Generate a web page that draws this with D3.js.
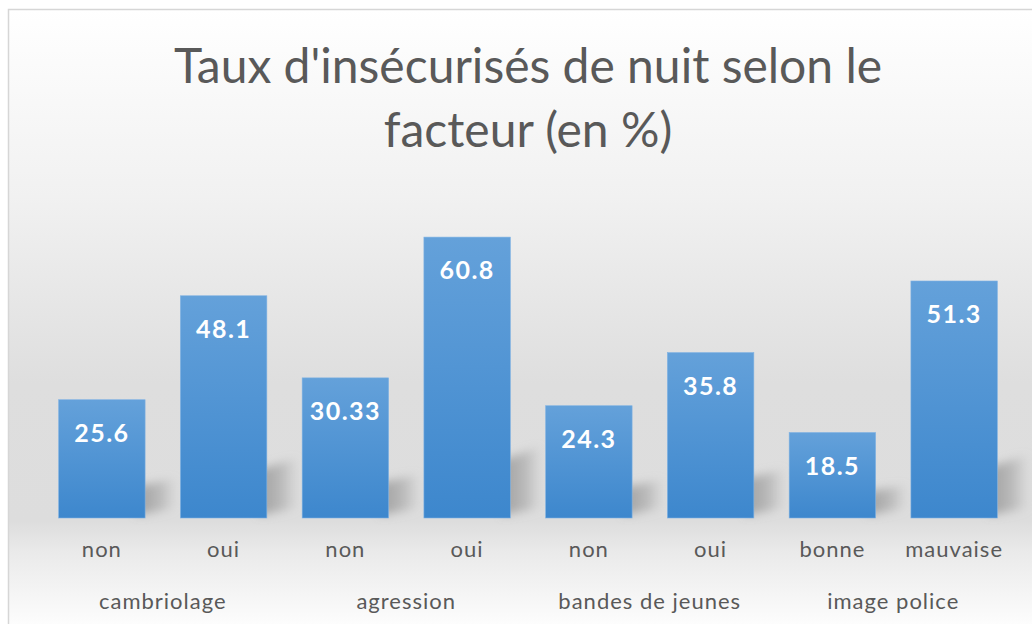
<!DOCTYPE html>
<html>
<head>
<meta charset="utf-8">
<script src="https://cdn.jsdelivr.net/npm/d3@7"></script>
<style>
  body { margin: 0; background: #fff; }
  svg { display: block; font-family: Lato, "Open Sans", sans-serif; }
</style>
</head>
<body>
<svg id="chart" width="1032" height="624"></svg>
<script>
// data
var groups = ["cambriolage", "agression", "bandes de jeunes", "image police"];
var subLabels = ["non", "oui", "non", "oui", "non", "oui", "bonne", "mauvaise"];
var values = [25.6, 48.1, 30.33, 60.8, 24.3, 35.8, 18.5, 51.3];
var titleLines = ["Taux d'insécurisés de nuit selon le", "facteur (en %)"];

var width = 1032, height = 624;
var svg = d3.select("#chart");
var defs = svg.append("defs");

// background gradient (white -> grey -> white)
var bg = defs.append("linearGradient").attr("id", "bg")
    .attr("x1", 0).attr("y1", 0).attr("x2", 0).attr("y2", 1);
[[0, "#ffffff"], [0.3, "#f1f1f1"], [0.6, "#dedede"], [0.82, "#dddddd"],
 [0.87, "#eaeaea"], [1, "#ffffff"]].forEach(function(s) {
    bg.append("stop").attr("offset", s[0]).attr("stop-color", s[1]);
});

var barGrad = defs.append("linearGradient").attr("id", "barGrad")
    .attr("x1", 0).attr("y1", 0).attr("x2", 0).attr("y2", 1);
barGrad.append("stop").attr("offset", 0).attr("stop-color", "#64a1da");
barGrad.append("stop").attr("offset", 1).attr("stop-color", "#3d87cd");

// shadow fades out to the right
var shGrad = defs.append("linearGradient").attr("id", "shGrad")
    .attr("x1", 0).attr("y1", 0).attr("x2", 1).attr("y2", 0);
shGrad.append("stop").attr("offset", 0).attr("stop-color", "#8a8a8a").attr("stop-opacity", 0.75);
shGrad.append("stop").attr("offset", 0.6).attr("stop-color", "#9a9a9a").attr("stop-opacity", 0.5);
shGrad.append("stop").attr("offset", 1).attr("stop-color", "#b0b0b0").attr("stop-opacity", 0);

defs.append("filter").attr("id", "blur")
    .attr("x", "-50%").attr("y", "-50%").attr("width", "200%").attr("height", "200%")
  .append("feGaussianBlur").attr("stdDeviation", 5);

svg.append("rect")
    .attr("x", 8.5).attr("y", 9.5)
    .attr("width", width).attr("height", height)
    .attr("fill", "url(#bg)")
    .attr("stroke", "#d6d6d6").attr("stroke-width", 1.5);

// title
svg.append("text")
    .attr("x", 528).attr("y", 83)
    .attr("text-anchor", "middle")
    .attr("fill", "#595959")
    .style("font-size", "48px")
    .selectAll("tspan")
    .data(titleLines)
    .enter().append("tspan")
    .attr("x", 528)
    .attr("dy", (d, i) => i === 0 ? 0 : 64)
    .text(d => d);

var x = d3.scaleBand()
    .domain(d3.range(values.length))
    .range([41, 1015])
    .paddingInner(0.29)
    .paddingOuter(0.145);

var y = d3.scaleLinear().domain([0, 70]).range([518, 194.6]);

var chart = svg.append("g");

// soft shadows cast to the right of each bar
chart.selectAll(".shadow")
    .data(values)
    .enter().append("path")
    .attr("class", "shadow")
    .attr("filter", "url(#blur)")
    .attr("fill", "url(#shGrad)")
    .attr("d", function(d, i) {
        var x1 = x(i) + x.bandwidth() - 8;
        var b = y(0);
        var h = (b - y(d)) * 0.2 + 16;
        return "M" + x1 + "," + (b - h * 0.8) +
            "L" + (x1 + 40) + "," + (b - h) +
            "L" + (x1 + 40) + "," + (b - 10) +
            "L" + x1 + "," + (b - 3) + "Z";
    });

chart.selectAll(".bar")
    .data(values)
    .enter().append("rect")
    .attr("class", "bar")
    .attr("x", (d, i) => x(i))
    .attr("y", d => y(d))
    .attr("width", x.bandwidth())
    .attr("height", d => y(0) - y(d))
    .attr("fill", "url(#barGrad)")
    .attr("stroke", "#7fb2e3")
    .attr("stroke-width", 0.6);

chart.selectAll(".val")
    .data(values)
    .enter().append("text")
    .attr("class", "val")
    .attr("x", (d, i) => x(i) + x.bandwidth() / 2)
    .attr("y", d => y(d) + 42)
    .attr("text-anchor", "middle")
    .attr("fill", "#ffffff")
    .style("font-size", "25px")
    .style("letter-spacing", "1.5px")
    .style("font-weight", "bold")
    .text(d => d);

// category axis
var axis = svg.append("g")
    .attr("transform", "translate(0," + y(0) + ")")
    .call(d3.axisBottom(x).tickSize(0).tickPadding(23).tickFormat(i => subLabels[i]));
axis.select(".domain").remove();
axis.selectAll("text")
    .attr("fill", "#595959")
    .style("font-size", "22px")
    .style("letter-spacing", "1px")
    .style("font-family", "Lato, 'Open Sans', sans-serif");

svg.selectAll(".group")
    .data(groups)
    .enter().append("text")
    .attr("class", "group")
    .attr("x", (d, i) => (x(2 * i) + x(2 * i + 1) + x.bandwidth()) / 2)
    .attr("y", 609)
    .attr("text-anchor", "middle")
    .attr("fill", "#595959")
    .style("font-size", "22px")
    .style("letter-spacing", "1px")
    .text(d => d);
</script>
</body>
</html>
